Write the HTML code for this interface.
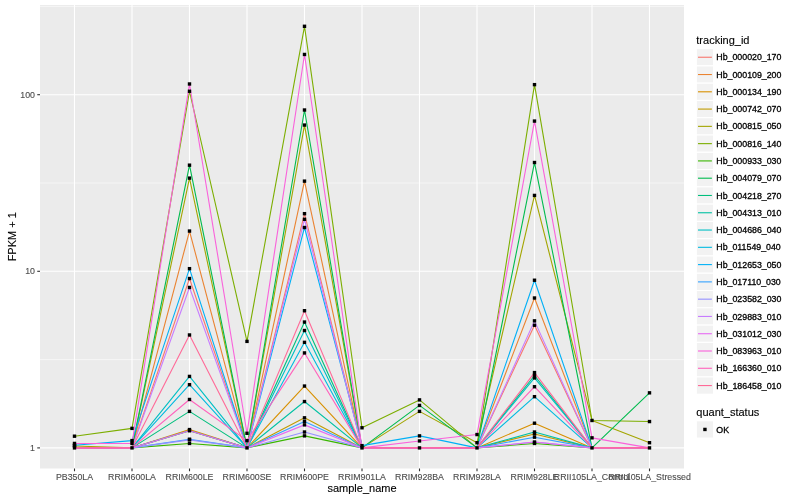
<!DOCTYPE html>
<html><head><meta charset="utf-8"><style>html,body{margin:0;padding:0;background:#fff;width:800px;height:500px;overflow:hidden}svg{display:block;will-change:transform}</style></head>
<body><svg width="800" height="500" viewBox="0 0 800 500">
<rect x="0" y="0" width="800" height="500" fill="#FFFFFF"/>
<rect x="40.0" y="5.0" width="644.0" height="463.5" fill="#EBEBEB"/>
<line x1="40.0" x2="684.0" y1="359.60" y2="359.60" stroke="#FFFFFF" stroke-width="0.55"/>
<line x1="40.0" x2="684.0" y1="183.00" y2="183.00" stroke="#FFFFFF" stroke-width="0.55"/>
<line x1="40.0" x2="684.0" y1="6.40" y2="6.40" stroke="#FFFFFF" stroke-width="0.55"/>
<line x1="40.0" x2="684.0" y1="447.90" y2="447.90" stroke="#FFFFFF" stroke-width="1.1"/>
<line x1="40.0" x2="684.0" y1="271.30" y2="271.30" stroke="#FFFFFF" stroke-width="1.1"/>
<line x1="40.0" x2="684.0" y1="94.70" y2="94.70" stroke="#FFFFFF" stroke-width="1.1"/>
<line x1="74.50" x2="74.50" y1="5.0" y2="468.5" stroke="#FFFFFF" stroke-width="1.1"/>
<line x1="132.00" x2="132.00" y1="5.0" y2="468.5" stroke="#FFFFFF" stroke-width="1.1"/>
<line x1="189.50" x2="189.50" y1="5.0" y2="468.5" stroke="#FFFFFF" stroke-width="1.1"/>
<line x1="247.00" x2="247.00" y1="5.0" y2="468.5" stroke="#FFFFFF" stroke-width="1.1"/>
<line x1="304.50" x2="304.50" y1="5.0" y2="468.5" stroke="#FFFFFF" stroke-width="1.1"/>
<line x1="362.00" x2="362.00" y1="5.0" y2="468.5" stroke="#FFFFFF" stroke-width="1.1"/>
<line x1="419.50" x2="419.50" y1="5.0" y2="468.5" stroke="#FFFFFF" stroke-width="1.1"/>
<line x1="477.00" x2="477.00" y1="5.0" y2="468.5" stroke="#FFFFFF" stroke-width="1.1"/>
<line x1="534.50" x2="534.50" y1="5.0" y2="468.5" stroke="#FFFFFF" stroke-width="1.1"/>
<line x1="592.00" x2="592.00" y1="5.0" y2="468.5" stroke="#FFFFFF" stroke-width="1.1"/>
<line x1="649.50" x2="649.50" y1="5.0" y2="468.5" stroke="#FFFFFF" stroke-width="1.1"/>
<g fill="none" stroke-width="1.1" stroke-linejoin="round" stroke-linecap="butt">
<polyline points="74.50,447.90 132.00,447.90 189.50,278.53 247.00,447.90 304.50,213.67 362.00,447.90 419.50,447.90 477.00,447.90 534.50,325.23 592.00,447.90 649.50,447.90" stroke="#F8766D"/>
<polyline points="74.50,447.90 132.00,447.90 189.50,231.06 247.00,447.90 304.50,181.14 362.00,447.90 419.50,447.90 477.00,447.90 534.50,298.00 592.00,447.90 649.50,447.90" stroke="#EA8331"/>
<polyline points="74.50,447.90 132.00,447.90 189.50,429.57 247.00,447.90 304.50,386.05 362.00,447.90 419.50,447.90 477.00,447.90 534.50,423.20 592.00,447.90 649.50,447.90" stroke="#D89000"/>
<polyline points="74.50,447.90 132.00,447.90 189.50,430.79 247.00,447.90 304.50,417.83 362.00,447.90 419.50,447.90 477.00,447.90 534.50,433.92 592.00,447.90 649.50,447.90" stroke="#C09B00"/>
<polyline points="74.50,446.01 132.00,447.90 189.50,178.12 247.00,447.90 304.50,125.07 362.00,447.90 419.50,411.37 477.00,442.71 534.50,195.41 592.00,420.47 649.50,442.71" stroke="#A3A500"/>
<polyline points="74.50,436.19 132.00,428.37 189.50,91.25 247.00,341.38 304.50,26.29 362.00,427.78 419.50,399.89 477.00,447.90 534.50,84.65 592.00,420.47 649.50,421.55" stroke="#7CAE00"/>
<polyline points="74.50,447.90 132.00,447.90 189.50,443.43 247.00,447.90 304.50,435.86 362.00,447.90 419.50,447.90 477.00,447.90 534.50,443.43 592.00,447.90 649.50,447.90" stroke="#39B600"/>
<polyline points="74.50,447.90 132.00,447.90 189.50,165.17 247.00,447.90 304.50,110.01 362.00,447.90 419.50,405.42 477.00,447.90 534.50,162.52 592.00,447.90 649.50,392.84" stroke="#00BB4E"/>
<polyline points="74.50,447.90 132.00,447.90 189.50,411.37 247.00,447.90 304.50,322.05 362.00,447.90 419.50,447.90 477.00,447.90 534.50,375.51 592.00,447.90 649.50,447.90" stroke="#00BF7D"/>
<polyline points="74.50,447.90 132.00,447.90 189.50,430.79 247.00,447.90 304.50,401.55 362.00,447.90 419.50,447.90 477.00,447.90 534.50,432.02 592.00,447.90 649.50,447.90" stroke="#00C1A3"/>
<polyline points="74.50,447.90 132.00,447.90 189.50,376.41 247.00,447.90 304.50,330.52 362.00,447.90 419.50,447.90 477.00,447.90 534.50,377.93 592.00,447.90 649.50,447.90" stroke="#00BFC4"/>
<polyline points="74.50,447.90 132.00,447.90 189.50,384.69 247.00,447.90 304.50,342.35 362.00,447.90 419.50,447.90 477.00,447.90 534.50,396.68 592.00,447.90 649.50,447.90" stroke="#00BAE0"/>
<polyline points="74.50,445.26 132.00,440.59 189.50,268.66 247.00,447.90 304.50,227.51 362.00,445.63 419.50,435.86 477.00,447.90 534.50,280.24 592.00,447.90 649.50,447.90" stroke="#00B0F6"/>
<polyline points="74.50,447.90 132.00,447.90 189.50,439.21 247.00,447.90 304.50,421.55 362.00,447.90 419.50,447.90 477.00,447.90 534.50,437.18 592.00,447.90 649.50,447.90" stroke="#35A2FF"/>
<polyline points="74.50,447.90 132.00,447.90 189.50,439.90 247.00,447.90 304.50,432.02 362.00,447.90 419.50,447.90 477.00,447.90 534.50,442.00 592.00,447.90 649.50,447.90" stroke="#9590FF"/>
<polyline points="74.50,447.90 132.00,447.90 189.50,287.46 247.00,447.90 304.50,219.30 362.00,447.90 419.50,447.90 477.00,447.90 534.50,320.87 592.00,447.90 649.50,447.90" stroke="#C77CFF"/>
<polyline points="74.50,447.90 132.00,447.90 189.50,430.79 247.00,447.90 304.50,424.88 362.00,447.90 419.50,447.90 477.00,447.90 534.50,442.00 592.00,447.90 649.50,447.90" stroke="#E76BF3"/>
<polyline points="74.50,443.43 132.00,443.43 189.50,83.98 247.00,433.28 304.50,54.46 362.00,447.90 419.50,440.94 477.00,434.56 534.50,121.08 592.00,437.85 649.50,447.90" stroke="#FA62DB"/>
<polyline points="74.50,447.90 132.00,447.90 189.50,399.48 247.00,440.59 304.50,352.92 362.00,447.90 419.50,447.90 477.00,447.90 534.50,386.73 592.00,447.90 649.50,447.90" stroke="#FF62BC"/>
<polyline points="74.50,447.90 132.00,447.90 189.50,334.97 247.00,447.90 304.50,310.73 362.00,447.90 419.50,447.90 477.00,447.90 534.50,372.58 592.00,447.90 649.50,447.90" stroke="#FF6A98"/>
</g>
<g fill="#000000">
<rect x="72.80" y="446.20" width="3.4" height="3.4"/>
<rect x="130.30" y="446.20" width="3.4" height="3.4"/>
<rect x="187.80" y="276.83" width="3.4" height="3.4"/>
<rect x="245.30" y="446.20" width="3.4" height="3.4"/>
<rect x="302.80" y="211.97" width="3.4" height="3.4"/>
<rect x="360.30" y="446.20" width="3.4" height="3.4"/>
<rect x="417.80" y="446.20" width="3.4" height="3.4"/>
<rect x="475.30" y="446.20" width="3.4" height="3.4"/>
<rect x="532.80" y="323.53" width="3.4" height="3.4"/>
<rect x="590.30" y="446.20" width="3.4" height="3.4"/>
<rect x="647.80" y="446.20" width="3.4" height="3.4"/>
<rect x="187.80" y="229.36" width="3.4" height="3.4"/>
<rect x="302.80" y="179.44" width="3.4" height="3.4"/>
<rect x="532.80" y="296.30" width="3.4" height="3.4"/>
<rect x="187.80" y="427.87" width="3.4" height="3.4"/>
<rect x="302.80" y="384.35" width="3.4" height="3.4"/>
<rect x="532.80" y="421.50" width="3.4" height="3.4"/>
<rect x="187.80" y="429.09" width="3.4" height="3.4"/>
<rect x="302.80" y="416.13" width="3.4" height="3.4"/>
<rect x="532.80" y="432.22" width="3.4" height="3.4"/>
<rect x="72.80" y="444.31" width="3.4" height="3.4"/>
<rect x="187.80" y="176.42" width="3.4" height="3.4"/>
<rect x="302.80" y="123.37" width="3.4" height="3.4"/>
<rect x="417.80" y="409.67" width="3.4" height="3.4"/>
<rect x="475.30" y="441.01" width="3.4" height="3.4"/>
<rect x="532.80" y="193.71" width="3.4" height="3.4"/>
<rect x="590.30" y="418.77" width="3.4" height="3.4"/>
<rect x="647.80" y="441.01" width="3.4" height="3.4"/>
<rect x="72.80" y="434.49" width="3.4" height="3.4"/>
<rect x="130.30" y="426.67" width="3.4" height="3.4"/>
<rect x="187.80" y="89.55" width="3.4" height="3.4"/>
<rect x="245.30" y="339.68" width="3.4" height="3.4"/>
<rect x="302.80" y="24.59" width="3.4" height="3.4"/>
<rect x="360.30" y="426.08" width="3.4" height="3.4"/>
<rect x="417.80" y="398.19" width="3.4" height="3.4"/>
<rect x="532.80" y="82.95" width="3.4" height="3.4"/>
<rect x="647.80" y="419.85" width="3.4" height="3.4"/>
<rect x="187.80" y="441.73" width="3.4" height="3.4"/>
<rect x="302.80" y="434.16" width="3.4" height="3.4"/>
<rect x="532.80" y="441.73" width="3.4" height="3.4"/>
<rect x="187.80" y="163.47" width="3.4" height="3.4"/>
<rect x="302.80" y="108.31" width="3.4" height="3.4"/>
<rect x="417.80" y="403.72" width="3.4" height="3.4"/>
<rect x="532.80" y="160.82" width="3.4" height="3.4"/>
<rect x="647.80" y="391.14" width="3.4" height="3.4"/>
<rect x="187.80" y="409.67" width="3.4" height="3.4"/>
<rect x="302.80" y="320.35" width="3.4" height="3.4"/>
<rect x="532.80" y="373.81" width="3.4" height="3.4"/>
<rect x="302.80" y="399.85" width="3.4" height="3.4"/>
<rect x="532.80" y="430.32" width="3.4" height="3.4"/>
<rect x="187.80" y="374.71" width="3.4" height="3.4"/>
<rect x="302.80" y="328.82" width="3.4" height="3.4"/>
<rect x="532.80" y="376.23" width="3.4" height="3.4"/>
<rect x="187.80" y="382.99" width="3.4" height="3.4"/>
<rect x="302.80" y="340.65" width="3.4" height="3.4"/>
<rect x="532.80" y="394.98" width="3.4" height="3.4"/>
<rect x="72.80" y="443.56" width="3.4" height="3.4"/>
<rect x="130.30" y="438.89" width="3.4" height="3.4"/>
<rect x="187.80" y="266.96" width="3.4" height="3.4"/>
<rect x="302.80" y="225.81" width="3.4" height="3.4"/>
<rect x="360.30" y="443.93" width="3.4" height="3.4"/>
<rect x="417.80" y="434.16" width="3.4" height="3.4"/>
<rect x="532.80" y="278.54" width="3.4" height="3.4"/>
<rect x="187.80" y="437.51" width="3.4" height="3.4"/>
<rect x="302.80" y="419.85" width="3.4" height="3.4"/>
<rect x="532.80" y="435.48" width="3.4" height="3.4"/>
<rect x="187.80" y="438.20" width="3.4" height="3.4"/>
<rect x="302.80" y="430.32" width="3.4" height="3.4"/>
<rect x="532.80" y="440.30" width="3.4" height="3.4"/>
<rect x="187.80" y="285.76" width="3.4" height="3.4"/>
<rect x="302.80" y="217.60" width="3.4" height="3.4"/>
<rect x="532.80" y="319.17" width="3.4" height="3.4"/>
<rect x="302.80" y="423.18" width="3.4" height="3.4"/>
<rect x="72.80" y="441.73" width="3.4" height="3.4"/>
<rect x="130.30" y="441.73" width="3.4" height="3.4"/>
<rect x="187.80" y="82.28" width="3.4" height="3.4"/>
<rect x="245.30" y="431.58" width="3.4" height="3.4"/>
<rect x="302.80" y="52.76" width="3.4" height="3.4"/>
<rect x="417.80" y="439.24" width="3.4" height="3.4"/>
<rect x="475.30" y="432.86" width="3.4" height="3.4"/>
<rect x="532.80" y="119.38" width="3.4" height="3.4"/>
<rect x="590.30" y="436.15" width="3.4" height="3.4"/>
<rect x="187.80" y="397.78" width="3.4" height="3.4"/>
<rect x="245.30" y="438.89" width="3.4" height="3.4"/>
<rect x="302.80" y="351.22" width="3.4" height="3.4"/>
<rect x="532.80" y="385.03" width="3.4" height="3.4"/>
<rect x="187.80" y="333.27" width="3.4" height="3.4"/>
<rect x="302.80" y="309.03" width="3.4" height="3.4"/>
<rect x="532.80" y="370.88" width="3.4" height="3.4"/>
</g>
<g stroke="#333333" stroke-width="1.1">
<line x1="37.25" x2="40.0" y1="447.90" y2="447.90"/>
<line x1="37.25" x2="40.0" y1="271.30" y2="271.30"/>
<line x1="37.25" x2="40.0" y1="94.70" y2="94.70"/>
<line x1="74.50" x2="74.50" y1="468.5" y2="471.25"/>
<line x1="132.00" x2="132.00" y1="468.5" y2="471.25"/>
<line x1="189.50" x2="189.50" y1="468.5" y2="471.25"/>
<line x1="247.00" x2="247.00" y1="468.5" y2="471.25"/>
<line x1="304.50" x2="304.50" y1="468.5" y2="471.25"/>
<line x1="362.00" x2="362.00" y1="468.5" y2="471.25"/>
<line x1="419.50" x2="419.50" y1="468.5" y2="471.25"/>
<line x1="477.00" x2="477.00" y1="468.5" y2="471.25"/>
<line x1="534.50" x2="534.50" y1="468.5" y2="471.25"/>
<line x1="592.00" x2="592.00" y1="468.5" y2="471.25"/>
<line x1="649.50" x2="649.50" y1="468.5" y2="471.25"/>
</g>
<g font-family="Liberation Sans, sans-serif" font-size="8.8" fill="#4D4D4D" stroke="#4D4D4D" stroke-width="0.12">
<text x="35.0" y="451.00" text-anchor="end">1</text>
<text x="35.0" y="274.40" text-anchor="end">10</text>
<text x="35.0" y="97.80" text-anchor="end">100</text>
<text x="74.50" y="480.0" text-anchor="middle">PB350LA</text>
<text x="132.00" y="480.0" text-anchor="middle">RRIM600LA</text>
<text x="189.50" y="480.0" text-anchor="middle">RRIM600LE</text>
<text x="247.00" y="480.0" text-anchor="middle">RRIM600SE</text>
<text x="304.50" y="480.0" text-anchor="middle">RRIM600PE</text>
<text x="362.00" y="480.0" text-anchor="middle">RRIM901LA</text>
<text x="419.50" y="480.0" text-anchor="middle">RRIM928BA</text>
<text x="477.00" y="480.0" text-anchor="middle">RRIM928LA</text>
<text x="534.50" y="480.0" text-anchor="middle">RRIM928LE</text>
<text x="592.00" y="480.0" text-anchor="middle">RRII105LA_Control</text>
<text x="649.50" y="480.0" text-anchor="middle">RRII105LA_Stressed</text>
</g>
<text font-family="Liberation Sans, sans-serif" font-size="11" fill="#000000" stroke="#000000" stroke-width="0.12" x="362.00" y="492.0" text-anchor="middle">sample_name</text>
<text font-family="Liberation Sans, sans-serif" font-size="11" fill="#000000" stroke="#000000" stroke-width="0.12" transform="translate(16.2,236.75) rotate(-90)" text-anchor="middle">FPKM + 1</text>
<text font-family="Liberation Sans, sans-serif" font-size="11" fill="#000000" stroke="#000000" stroke-width="0.12" x="696.3" y="43.8">tracking_id</text>
<rect x="696.3" y="48.60" width="17.28" height="17.28" fill="#F2F2F2" stroke="#FFFFFF" stroke-width="1.1"/>
<line x1="698.00" x2="711.88" y1="57.24" y2="57.24" stroke="#F8766D" stroke-width="1.1"/>
<text font-family="Liberation Sans, sans-serif" font-size="8.8" fill="#000000" stroke="#000000" stroke-width="0.3" x="716.33" y="60.34">Hb_000020_170</text>
<rect x="696.3" y="65.88" width="17.28" height="17.28" fill="#F2F2F2" stroke="#FFFFFF" stroke-width="1.1"/>
<line x1="698.00" x2="711.88" y1="74.52" y2="74.52" stroke="#EA8331" stroke-width="1.1"/>
<text font-family="Liberation Sans, sans-serif" font-size="8.8" fill="#000000" stroke="#000000" stroke-width="0.3" x="716.33" y="77.62">Hb_000109_200</text>
<rect x="696.3" y="83.16" width="17.28" height="17.28" fill="#F2F2F2" stroke="#FFFFFF" stroke-width="1.1"/>
<line x1="698.00" x2="711.88" y1="91.80" y2="91.80" stroke="#D89000" stroke-width="1.1"/>
<text font-family="Liberation Sans, sans-serif" font-size="8.8" fill="#000000" stroke="#000000" stroke-width="0.3" x="716.33" y="94.90">Hb_000134_190</text>
<rect x="696.3" y="100.44" width="17.28" height="17.28" fill="#F2F2F2" stroke="#FFFFFF" stroke-width="1.1"/>
<line x1="698.00" x2="711.88" y1="109.08" y2="109.08" stroke="#C09B00" stroke-width="1.1"/>
<text font-family="Liberation Sans, sans-serif" font-size="8.8" fill="#000000" stroke="#000000" stroke-width="0.3" x="716.33" y="112.18">Hb_000742_070</text>
<rect x="696.3" y="117.72" width="17.28" height="17.28" fill="#F2F2F2" stroke="#FFFFFF" stroke-width="1.1"/>
<line x1="698.00" x2="711.88" y1="126.36" y2="126.36" stroke="#A3A500" stroke-width="1.1"/>
<text font-family="Liberation Sans, sans-serif" font-size="8.8" fill="#000000" stroke="#000000" stroke-width="0.3" x="716.33" y="129.46">Hb_000815_050</text>
<rect x="696.3" y="135.00" width="17.28" height="17.28" fill="#F2F2F2" stroke="#FFFFFF" stroke-width="1.1"/>
<line x1="698.00" x2="711.88" y1="143.64" y2="143.64" stroke="#7CAE00" stroke-width="1.1"/>
<text font-family="Liberation Sans, sans-serif" font-size="8.8" fill="#000000" stroke="#000000" stroke-width="0.3" x="716.33" y="146.74">Hb_000816_140</text>
<rect x="696.3" y="152.28" width="17.28" height="17.28" fill="#F2F2F2" stroke="#FFFFFF" stroke-width="1.1"/>
<line x1="698.00" x2="711.88" y1="160.92" y2="160.92" stroke="#39B600" stroke-width="1.1"/>
<text font-family="Liberation Sans, sans-serif" font-size="8.8" fill="#000000" stroke="#000000" stroke-width="0.3" x="716.33" y="164.02">Hb_000933_030</text>
<rect x="696.3" y="169.56" width="17.28" height="17.28" fill="#F2F2F2" stroke="#FFFFFF" stroke-width="1.1"/>
<line x1="698.00" x2="711.88" y1="178.20" y2="178.20" stroke="#00BB4E" stroke-width="1.1"/>
<text font-family="Liberation Sans, sans-serif" font-size="8.8" fill="#000000" stroke="#000000" stroke-width="0.3" x="716.33" y="181.30">Hb_004079_070</text>
<rect x="696.3" y="186.84" width="17.28" height="17.28" fill="#F2F2F2" stroke="#FFFFFF" stroke-width="1.1"/>
<line x1="698.00" x2="711.88" y1="195.48" y2="195.48" stroke="#00BF7D" stroke-width="1.1"/>
<text font-family="Liberation Sans, sans-serif" font-size="8.8" fill="#000000" stroke="#000000" stroke-width="0.3" x="716.33" y="198.58">Hb_004218_270</text>
<rect x="696.3" y="204.12" width="17.28" height="17.28" fill="#F2F2F2" stroke="#FFFFFF" stroke-width="1.1"/>
<line x1="698.00" x2="711.88" y1="212.76" y2="212.76" stroke="#00C1A3" stroke-width="1.1"/>
<text font-family="Liberation Sans, sans-serif" font-size="8.8" fill="#000000" stroke="#000000" stroke-width="0.3" x="716.33" y="215.86">Hb_004313_010</text>
<rect x="696.3" y="221.40" width="17.28" height="17.28" fill="#F2F2F2" stroke="#FFFFFF" stroke-width="1.1"/>
<line x1="698.00" x2="711.88" y1="230.04" y2="230.04" stroke="#00BFC4" stroke-width="1.1"/>
<text font-family="Liberation Sans, sans-serif" font-size="8.8" fill="#000000" stroke="#000000" stroke-width="0.3" x="716.33" y="233.14">Hb_004686_040</text>
<rect x="696.3" y="238.68" width="17.28" height="17.28" fill="#F2F2F2" stroke="#FFFFFF" stroke-width="1.1"/>
<line x1="698.00" x2="711.88" y1="247.32" y2="247.32" stroke="#00BAE0" stroke-width="1.1"/>
<text font-family="Liberation Sans, sans-serif" font-size="8.8" fill="#000000" stroke="#000000" stroke-width="0.3" x="716.33" y="250.42">Hb_011549_040</text>
<rect x="696.3" y="255.96" width="17.28" height="17.28" fill="#F2F2F2" stroke="#FFFFFF" stroke-width="1.1"/>
<line x1="698.00" x2="711.88" y1="264.60" y2="264.60" stroke="#00B0F6" stroke-width="1.1"/>
<text font-family="Liberation Sans, sans-serif" font-size="8.8" fill="#000000" stroke="#000000" stroke-width="0.3" x="716.33" y="267.70">Hb_012653_050</text>
<rect x="696.3" y="273.24" width="17.28" height="17.28" fill="#F2F2F2" stroke="#FFFFFF" stroke-width="1.1"/>
<line x1="698.00" x2="711.88" y1="281.88" y2="281.88" stroke="#35A2FF" stroke-width="1.1"/>
<text font-family="Liberation Sans, sans-serif" font-size="8.8" fill="#000000" stroke="#000000" stroke-width="0.3" x="716.33" y="284.98">Hb_017110_030</text>
<rect x="696.3" y="290.52" width="17.28" height="17.28" fill="#F2F2F2" stroke="#FFFFFF" stroke-width="1.1"/>
<line x1="698.00" x2="711.88" y1="299.16" y2="299.16" stroke="#9590FF" stroke-width="1.1"/>
<text font-family="Liberation Sans, sans-serif" font-size="8.8" fill="#000000" stroke="#000000" stroke-width="0.3" x="716.33" y="302.26">Hb_023582_030</text>
<rect x="696.3" y="307.80" width="17.28" height="17.28" fill="#F2F2F2" stroke="#FFFFFF" stroke-width="1.1"/>
<line x1="698.00" x2="711.88" y1="316.44" y2="316.44" stroke="#C77CFF" stroke-width="1.1"/>
<text font-family="Liberation Sans, sans-serif" font-size="8.8" fill="#000000" stroke="#000000" stroke-width="0.3" x="716.33" y="319.54">Hb_029883_010</text>
<rect x="696.3" y="325.08" width="17.28" height="17.28" fill="#F2F2F2" stroke="#FFFFFF" stroke-width="1.1"/>
<line x1="698.00" x2="711.88" y1="333.72" y2="333.72" stroke="#E76BF3" stroke-width="1.1"/>
<text font-family="Liberation Sans, sans-serif" font-size="8.8" fill="#000000" stroke="#000000" stroke-width="0.3" x="716.33" y="336.82">Hb_031012_030</text>
<rect x="696.3" y="342.36" width="17.28" height="17.28" fill="#F2F2F2" stroke="#FFFFFF" stroke-width="1.1"/>
<line x1="698.00" x2="711.88" y1="351.00" y2="351.00" stroke="#FA62DB" stroke-width="1.1"/>
<text font-family="Liberation Sans, sans-serif" font-size="8.8" fill="#000000" stroke="#000000" stroke-width="0.3" x="716.33" y="354.10">Hb_083963_010</text>
<rect x="696.3" y="359.64" width="17.28" height="17.28" fill="#F2F2F2" stroke="#FFFFFF" stroke-width="1.1"/>
<line x1="698.00" x2="711.88" y1="368.28" y2="368.28" stroke="#FF62BC" stroke-width="1.1"/>
<text font-family="Liberation Sans, sans-serif" font-size="8.8" fill="#000000" stroke="#000000" stroke-width="0.3" x="716.33" y="371.38">Hb_166360_010</text>
<rect x="696.3" y="376.92" width="17.28" height="17.28" fill="#F2F2F2" stroke="#FFFFFF" stroke-width="1.1"/>
<line x1="698.00" x2="711.88" y1="385.56" y2="385.56" stroke="#FF6A98" stroke-width="1.1"/>
<text font-family="Liberation Sans, sans-serif" font-size="8.8" fill="#000000" stroke="#000000" stroke-width="0.3" x="716.33" y="388.66">Hb_186458_010</text>
<text font-family="Liberation Sans, sans-serif" font-size="11" fill="#000000" stroke="#000000" stroke-width="0.12" x="696.3" y="416.0">quant_status</text>
<rect x="696.3" y="420.80" width="17.28" height="17.28" fill="#F2F2F2" stroke="#FFFFFF" stroke-width="1.1"/>
<rect x="703.24" y="427.74" width="3.4" height="3.4" fill="#000000"/>
<text font-family="Liberation Sans, sans-serif" font-size="8.8" fill="#000000" stroke="#000000" stroke-width="0.3" x="716.33" y="432.54">OK</text>
</svg></body></html>
